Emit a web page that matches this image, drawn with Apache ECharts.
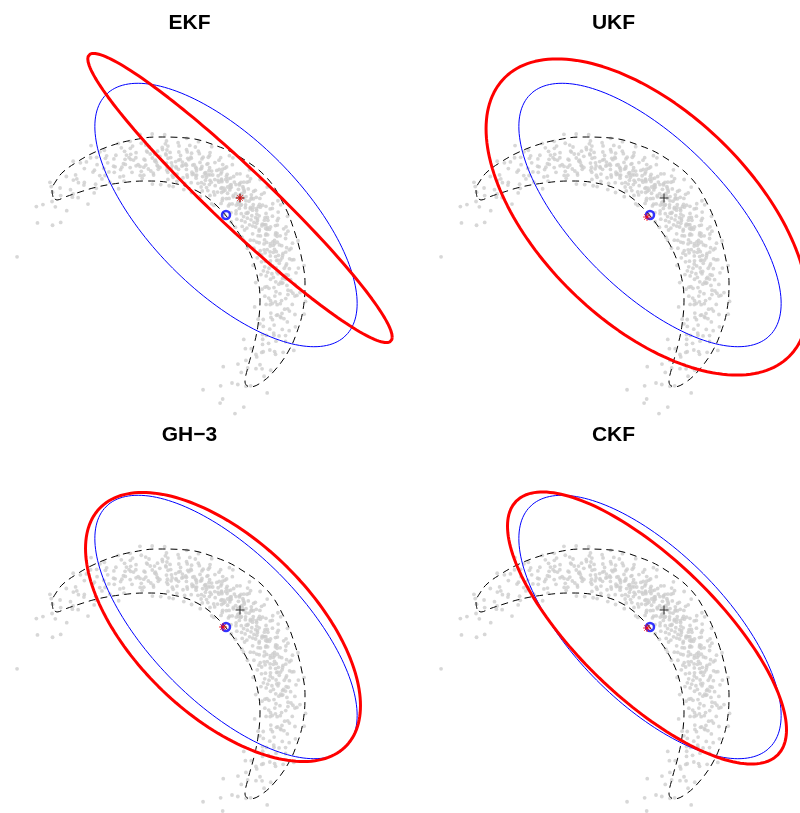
<!DOCTYPE html>
<html><head><meta charset="utf-8">
<script src="https://cdn.jsdelivr.net/npm/echarts@6/dist/echarts.min.js"></script>
<style>html,body{margin:0;padding:0;background:#fff}#c{width:800px;height:813px}</style>
</head><body><div id="c"></div>
<script>
// ---------------- data ----------------
const panelTitles = ['EKF', 'UKF', 'GH\u22123', 'CKF'];

// Monte Carlo sample cloud: flat list of (range, bearing in degrees)
const cloudPolar = [
1.31,-56.3,1.19,-53.6,
1.50,-51.3,1.24,-48.6,1.29,-47.1,
1.06,-46.3,1.39,-43.6,1.23,-42.1,1.36,-45.1,
1.56,-41.3,1.25,-38.6,1.43,-37.1,1.15,-40.1,1.32,-36.6,
1.19,-36.3,1.45,-33.6,1.26,-32.1,1.37,-35.1,1.12,-31.6,1.33,-34.2,
1.24,-31.3,1.29,-28.6,1.41,-27.1,1.17,-30.1,1.34,-26.6,1.28,-29.2,1.06,-27.8,
1.39,-26.3,1.23,-23.6,1.36,-22.1,1.47,-25.1,1.21,-21.6,1.30,-24.2,1.56,-22.8,1.25,-25.8,
1.25,-21.3,1.43,-18.6,1.15,-17.1,1.32,-20.1,1.38,-16.6,1.31,-19.2,1.19,-17.8,1.45,-20.8,1.26,-18.1,1.37,-19.6,
1.45,-16.3,1.26,-13.6,1.37,-12.1,1.12,-15.1,1.33,-11.6,1.50,-14.2,1.24,-12.8,1.29,-15.8,1.41,-13.1,1.17,-14.6,1.34,-11.9,
1.29,-11.3,1.41,-8.6,1.17,-7.1,1.34,-10.1,1.28,-6.6,1.06,-9.2,1.39,-7.8,1.23,-10.8,1.36,-8.1,1.47,-9.6,1.21,-6.9,1.30,-11.0,1.56,-8.9,
1.23,-6.3,1.36,-3.6,1.47,-2.1,1.21,-5.1,1.30,-1.6,1.56,-4.2,1.25,-2.8,1.43,-5.8,1.15,-3.1,1.32,-4.6,1.38,-1.9,1.31,-6.0,1.19,-3.9,1.45,-2.4,1.26,-5.4,
1.43,-1.3,1.15,1.4,1.32,2.9,1.38,-0.1,1.31,3.4,1.19,0.8,1.45,2.2,1.26,-0.8,1.37,1.9,1.12,0.4,1.33,3.1,1.50,-1.0,1.24,1.1,1.29,2.6,1.41,-0.4,1.17,1.7,
1.26,3.7,1.37,6.4,1.12,7.9,1.33,4.9,1.50,8.4,1.24,5.8,1.29,7.2,1.41,4.2,1.17,6.9,1.34,5.4,1.28,8.1,1.06,4.0,1.39,6.1,1.23,7.6,1.36,4.6,1.47,6.7,1.21,5.1,1.30,8.2,
1.41,8.7,1.17,11.4,1.34,12.9,1.28,9.9,1.06,13.4,1.39,10.8,1.23,12.2,1.36,9.2,1.47,11.9,1.21,10.4,1.30,13.1,1.56,9.0,1.25,11.1,1.43,12.6,1.15,9.6,1.32,11.7,1.38,10.1,1.31,13.2,1.19,8.6,1.45,12.0,
1.36,13.7,1.47,16.4,1.21,17.9,1.30,14.9,1.56,18.4,1.25,15.8,1.43,17.2,1.15,14.2,1.32,16.9,1.38,15.4,1.31,18.1,1.19,14.0,1.45,16.1,1.26,17.6,1.37,14.6,1.12,16.7,1.33,15.1,1.50,18.2,1.24,13.6,1.29,17.0,1.41,15.6,1.17,17.4,
1.15,18.7,1.32,21.4,1.38,22.9,1.31,19.9,1.19,23.4,1.45,20.8,1.26,22.2,1.37,19.2,1.12,21.9,1.33,20.4,1.50,23.1,1.24,19.0,1.29,21.1,1.41,22.6,1.17,19.6,1.34,21.7,1.28,20.1,1.06,23.2,1.39,18.6,1.23,22.0,1.36,20.6,1.47,22.4,1.21,19.4,
1.37,23.7,1.12,26.4,1.33,27.9,1.50,24.9,1.24,28.4,1.29,25.8,1.41,27.2,1.17,24.2,1.34,26.9,1.28,25.4,1.06,28.1,1.39,24.0,1.23,26.1,1.36,27.6,1.47,24.6,1.21,26.7,1.30,25.1,1.56,28.2,1.25,23.6,1.43,27.0,1.15,25.6,1.32,27.4,1.38,24.4,1.31,28.0,
1.17,28.7,1.34,31.4,1.28,32.9,1.06,29.9,1.39,33.4,1.23,30.8,1.36,32.2,1.47,29.2,1.21,31.9,1.30,30.4,1.56,33.1,1.25,29.0,1.43,31.1,1.15,32.6,1.32,29.6,1.38,31.7,1.31,30.1,1.19,33.2,1.45,28.6,1.26,32.0,1.37,30.6,1.12,32.4,1.33,29.4,1.50,31.3,1.24,33.0,1.29,29.8,
1.47,33.7,1.21,36.4,1.30,37.9,1.56,34.9,1.25,38.4,1.43,35.8,1.15,37.2,1.32,34.2,1.38,36.9,1.31,35.4,1.19,38.1,1.45,34.0,1.26,36.1,1.37,37.6,1.12,34.6,1.33,36.7,1.50,35.1,1.24,38.2,1.29,33.6,1.41,37.0,1.17,35.6,1.34,37.4,1.28,34.4,1.06,36.3,1.39,38.0,1.23,34.8,
1.32,38.7,1.38,41.4,1.31,42.9,1.19,39.9,1.45,43.4,1.26,40.8,1.37,42.2,1.12,39.2,1.33,41.9,1.50,40.4,1.24,43.1,1.29,39.0,1.41,41.1,1.17,42.6,1.34,39.6,1.28,41.7,1.06,40.1,1.39,43.2,1.23,38.6,1.36,42.0,1.47,40.6,1.21,42.4,1.30,39.4,1.56,41.3,1.25,43.0,1.43,39.8,1.15,41.6,
1.12,43.7,1.33,46.4,1.50,47.9,1.24,44.9,1.29,48.4,1.41,45.8,1.17,47.2,1.34,44.2,1.28,46.9,1.06,45.4,1.39,48.1,1.23,44.0,1.36,46.1,1.47,47.6,1.21,44.6,1.30,46.7,1.56,45.1,1.25,48.2,1.43,43.6,1.15,47.0,1.32,45.6,1.38,47.4,1.31,44.4,1.19,46.3,1.45,48.0,1.26,44.8,1.37,46.6,
1.34,48.7,1.28,51.4,1.06,52.9,1.39,49.9,1.23,53.4,1.36,50.8,1.47,52.2,1.21,49.2,1.30,51.9,1.56,50.4,1.25,53.1,1.43,49.0,1.15,51.1,1.32,52.6,1.38,49.6,1.31,51.7,1.19,50.1,1.45,53.2,1.26,48.6,1.37,52.0,1.12,50.6,1.33,52.4,1.50,49.4,1.24,51.3,1.29,53.0,1.41,49.8,1.17,51.6,
1.21,53.7,1.30,56.4,1.56,57.9,1.25,54.9,1.43,58.4,1.15,55.8,1.32,57.2,1.38,54.2,1.31,56.9,1.19,55.4,1.45,58.1,1.26,54.0,1.37,56.1,1.12,57.6,1.33,54.6,1.50,56.7,1.24,55.1,1.29,58.2,1.41,53.6,1.17,57.0,1.34,55.6,1.28,57.4,1.06,54.4,1.39,56.3,1.23,58.0,1.36,54.8,
1.38,58.7,1.31,61.4,1.19,62.9,1.45,59.9,1.26,63.4,1.37,60.8,1.12,62.2,1.33,59.2,1.50,61.9,1.24,60.4,1.29,63.1,1.41,59.0,1.17,61.1,1.34,62.6,1.28,59.6,1.06,61.7,1.39,60.1,1.23,63.2,1.36,58.6,1.47,62.0,1.21,60.6,1.30,62.4,1.56,59.4,1.25,61.3,1.43,63.0,1.15,59.8,
1.33,63.7,1.50,66.4,1.24,67.9,1.29,64.9,1.41,68.4,1.17,65.8,1.34,67.2,1.28,64.2,1.06,66.9,1.39,65.4,1.23,68.1,1.36,64.0,1.47,66.1,1.21,67.6,1.30,64.6,1.56,66.7,1.25,65.1,1.43,68.2,1.15,63.6,1.32,67.0,1.38,65.6,1.31,67.4,1.19,64.4,1.45,66.3,
1.28,68.7,1.06,71.4,1.39,72.9,1.23,69.9,1.36,73.4,1.47,70.8,1.21,72.2,1.30,69.2,1.56,71.9,1.25,70.4,1.43,73.1,1.15,69.0,1.32,71.1,1.38,72.6,1.31,69.6,1.19,71.7,1.45,70.1,1.26,73.2,1.37,68.6,1.12,72.0,1.33,70.6,1.50,72.4,1.24,69.4,
1.30,73.7,1.56,76.4,1.25,77.9,1.43,74.9,1.15,78.4,1.32,75.8,1.38,77.2,1.31,74.2,1.19,76.9,1.45,75.4,1.26,78.1,1.37,74.0,1.12,76.1,1.33,77.6,1.50,74.6,1.24,76.7,1.29,75.1,1.41,78.2,1.17,73.6,1.34,77.0,1.28,75.6,1.06,77.4,
1.31,78.7,1.19,81.4,1.45,82.9,1.26,79.9,1.37,83.4,1.12,80.8,1.33,82.2,1.50,79.2,1.24,81.9,1.29,80.4,1.41,83.1,1.17,79.0,1.34,81.1,1.28,82.6,1.06,79.6,1.39,81.7,1.23,80.1,1.36,83.2,1.47,78.6,1.21,82.0,
1.50,83.7,1.24,86.4,1.29,87.9,1.41,84.9,1.17,88.4,1.34,85.8,1.28,87.2,1.06,84.2,1.39,86.9,1.23,85.4,1.36,88.1,1.47,84.0,1.21,86.1,1.30,87.6,1.56,84.6,1.25,86.7,1.43,85.1,1.15,88.2,
1.06,88.7,1.39,91.4,1.23,92.9,1.36,89.9,1.47,93.4,1.21,90.8,1.30,92.2,1.56,89.2,1.25,91.9,1.43,90.4,1.15,93.1,1.32,89.0,1.38,91.1,1.31,92.6,1.19,89.6,1.45,91.7,
1.56,93.7,1.25,96.4,1.43,97.9,1.15,94.9,1.32,98.4,1.38,95.8,1.31,97.2,1.19,94.2,1.45,96.9,1.26,95.4,1.37,98.1,1.12,94.0,1.33,96.1,1.50,97.6,1.24,94.6,
1.19,98.7,1.45,101.4,1.26,102.9,1.37,99.9,1.12,103.4,1.33,100.8,1.50,102.2,1.24,99.2,1.29,101.9,1.41,100.4,1.17,103.1,1.34,99.0,1.28,101.1,
1.24,103.7,1.29,106.4,1.41,107.9,1.17,104.9,1.34,108.4,1.28,105.8,1.06,107.2,1.39,104.2,1.23,106.9,1.36,105.4,1.47,108.1,
1.39,108.7,1.23,111.4,1.36,112.9,1.47,109.9,1.21,113.4,1.30,110.8,1.56,112.2,1.25,109.2,1.43,111.9,1.15,110.4,
1.25,113.7,1.43,116.4,1.15,117.9,1.32,114.9,1.38,118.4,1.31,115.8,1.19,117.2,1.45,114.2,
1.45,118.7,1.26,121.4,1.37,122.9,1.12,119.9,1.33,123.4,1.50,120.8,1.24,122.2,
1.29,123.7,1.41,126.4,1.17,127.9,1.34,124.9,1.28,128.4,1.06,125.8,
1.23,128.7,1.36,131.4,1.47,132.9,1.21,129.9,1.30,133.4,
1.43,133.7,1.15,136.4,1.32,137.9,1.38,134.9,
1.26,138.7,1.37,141.4,1.12,142.9,
1.41,143.7,1.17,146.4,
1.37,166.0,1.31,149.2,1.13,-62.0,1.33,-58.2,1.50,-55.5
];

// dashed true-density contour (x, y)
const contourXY = [
[-0.97,0.93],[-0.98,1.00],[-0.94,1.09],[-0.87,1.18],[-0.73,1.28],[-0.57,1.37],[-0.37,1.45],[-0.17,1.50],
[0.07,1.53],[0.37,1.52],[0.67,1.44],[0.90,1.33],[1.17,1.12],[1.34,0.85],[1.45,0.57],[1.52,0.30],[1.55,0.07],
[1.53,-0.20],[1.47,-0.42],[1.38,-0.62],[1.25,-0.80],[1.12,-0.92],[1.00,-0.97],[0.95,-0.92],[0.98,-0.77],
[1.04,-0.55],[1.08,-0.35],[1.10,-0.10],[1.07,0.15],[1.00,0.37],[0.88,0.58],[0.68,0.83],[0.47,0.99],
[0.22,1.07],[-0.05,1.09],[-0.30,1.07],[-0.53,1.03],[-0.70,0.98],[-0.85,0.93],[-0.93,0.90],[-0.97,0.93]
];

// Monte Carlo mean / covariance (blue), linearised point (black +)
const mcMean = [0.76, 0.75];
const mcCov = [1.72, -1.16, 1.735];          // [Sxx, Sxy, Syy]
const linPoint = [0.90, 0.92];
// filter estimates (red)
const filterMeans = [[0.90, 0.92], [0.73, 0.73], [0.73, 0.75], [0.73, 0.74]];
const filterCovs = [[2.317, -2.118, 2.092], [2.59, -1.42, 2.50], [1.89, -1.08, 1.81], [1.946, -1.42, 1.85]];

// ---------------- layout ----------------
const X_MIN = -1.5, Y_MAX = 2.9, PX_PER_UNIT = 100;
const PANEL_DX = 424, PANEL_DY = 412;
const GRID_W = [400, 376], GRID_H = [410, 401];

function ellipsePoints(m, S) {
  const a = Math.sqrt(S[0]);
  const b = S[1] / a;
  const c = Math.sqrt(S[2] - b * b);
  const pts = [];
  for (let d = 0; d <= 360; d += 2) {
    const t = d * Math.PI / 180;
    pts.push([m[0] + a * Math.cos(t), m[1] + b * Math.cos(t) + c * Math.sin(t)]);
  }
  return pts;
}

const cloud = [];
for (let i = 0; i < cloudPolar.length; i += 2) cloud.push([cloudPolar[i], cloudPolar[i + 1]]);

const grids = [], xAxes = [], yAxes = [], polars = [], angleAxes = [], radiusAxes = [], titles = [], series = [];
const plusPath = 'path://M0,5L10,5M5,0L5,10';
const starPath = 'path://M0,5L10,5M5,0L5,10M1.5,1.5L8.5,8.5M8.5,1.5L1.5,8.5';

panelTitles.forEach((name, p) => {
  const col = p % 2, row = Math.floor(p / 2);
  const left = col * PANEL_DX, top = row * PANEL_DY;
  const w = GRID_W[col], h = GRID_H[row];
  const xMax = X_MIN + w / PX_PER_UNIT, yMin = Y_MAX - h / PX_PER_UNIT;
  grids.push({ left: left, top: top, width: w, height: h, outerBoundsMode: 'none', containLabel: false });
  xAxes.push({ gridIndex: p, type: 'value', min: X_MIN, max: xMax, show: false });
  yAxes.push({ gridIndex: p, type: 'value', min: yMin, max: Y_MAX, show: false });
  const cx = left + (0 - X_MIN) * PX_PER_UNIT, cy = top + (Y_MAX - 0) * PX_PER_UNIT;
  polars.push({ center: [cx, cy], radius: [0, 2 * PX_PER_UNIT] });
  angleAxes.push({ polarIndex: p, type: 'value', min: -180, max: 180, startAngle: 180, clockwise: false, show: false });
  radiusAxes.push({ polarIndex: p, type: 'value', min: 0, max: 2, show: false });
  titles.push({
    text: name, left: left + 189.5, top: top + 13, textAlign: 'center', padding: 0,
    textStyle: { fontSize: 21, fontWeight: 'bold', fontFamily: 'Liberation Sans', color: '#000' }
  });

  series.push({
    type: 'scatter', coordinateSystem: 'polar', polarIndex: p, data: cloud,
    symbol: 'circle', symbolSize: 3.8, itemStyle: { color: '#CDCDCD' }, silent: true, z: 1
  });
  series.push({
    type: 'line', xAxisIndex: p, yAxisIndex: p, data: contourXY, showSymbol: false, symbol: 'none',
    smooth: 0.4, clip: false, lineStyle: { color: '#000', width: 1, type: [7, 5] }, silent: true, z: 2
  });
  series.push({
    type: 'scatter', xAxisIndex: p, yAxisIndex: p, data: [linPoint], symbol: plusPath, symbolSize: 9,
    itemStyle: { color: 'transparent', borderColor: '#000', borderWidth: 1 }, silent: true, z: 3
  });
  series.push({
    type: 'line', xAxisIndex: p, yAxisIndex: p, data: ellipsePoints(mcMean, mcCov), showSymbol: false, symbol: 'none',
    clip: false, lineStyle: { color: '#0000FF', width: 1 }, silent: true, z: 4
  });
  series.push({
    type: 'line', xAxisIndex: p, yAxisIndex: p, data: ellipsePoints(filterMeans[p], filterCovs[p]), showSymbol: false, symbol: 'none',
    clip: false, lineStyle: { color: '#FF0000', width: 3 }, silent: true, z: 5
  });
  series.push({
    type: 'scatter', xAxisIndex: p, yAxisIndex: p, data: [mcMean], symbol: 'circle', symbolSize: 8,
    itemStyle: { color: 'transparent', borderColor: '#0000FF', borderWidth: 2.5 }, silent: true, z: 6
  });
  series.push({
    type: 'scatter', xAxisIndex: p, yAxisIndex: p, data: [filterMeans[p]], symbol: starPath, symbolSize: 8,
    itemStyle: { color: 'transparent', borderColor: '#FF0000', borderWidth: 1 }, silent: true, z: 7
  });
});

const chart = echarts.init(document.getElementById('c'), null, { renderer: 'canvas' });
chart.setOption({
  backgroundColor: '#FFFFFF',
  animation: false,
  title: titles,
  grid: grids, xAxis: xAxes, yAxis: yAxes,
  polar: polars, angleAxis: angleAxes, radiusAxis: radiusAxes,
  series: series
});
</script></body></html>
